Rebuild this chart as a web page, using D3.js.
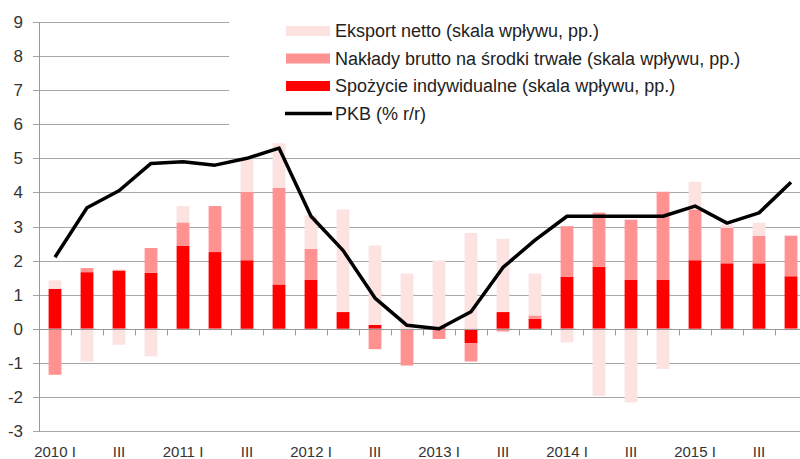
<!DOCTYPE html>
<html lang="pl">
<head>
    <meta charset="UTF-8">
    <title>PKB i wkłady</title>
    <script src="https://d3js.org/d3.v7.min.js"></script>
    <style>
        body {
            margin: 0;
            background: #fff;
            font-family: 'Liberation Sans', Arial, sans-serif;
        }
        .grid line { stroke: #a6a6a6; stroke-width: 1px; }
        .tick-label { fill: #333; font-size: 15px; }
        .y-label { fill: #333; font-size: 17px; }
        .legend text { fill: #222; font-size: 18px; }
    </style>
</head>
<body>
    <svg id="chart" width="800" height="459"></svg>

    <script>
        // kwartały 2010 I - 2015 IV
        const quarters = d3.range(24).map(i => (2010 + Math.floor(i / 4)) + " Q" + (i % 4 + 1));
        const xLabels = ["2010 I", "", "III", "", "2011 I", "", "III", "", "2012 I", "", "III", "",
                         "2013 I", "", "III", "", "2014 I", "", "III", "", "2015 I", "", "III", ""];

        const consumption = [1.17, 1.66, 1.70, 1.64, 2.44, 2.25, 2.01, 1.30, 1.43, 0.49, 0.11, 0.00,
                             0.05, -0.42, 0.49, 0.29, 1.53, 1.82, 1.43, 1.43, 2.01, 1.92, 1.92, 1.54];
        const investment = [-1.35, 0.12, 0.03, 0.73, 0.68, 1.35, 2.01, 2.83, 0.91, 0.00, -0.60, -1.08,
                            -0.30, -0.54, -0.08, 0.10, 1.48, 1.59, 1.77, 2.59, 1.49, 1.04, 0.81, 1.19];
        const netExports = [0.25, -0.96, -0.47, -0.81, 0.48, -0.05, 0.97, 1.31, 0.98, 3.01, 2.33, 1.62,
                            1.95, 2.81, 2.15, 1.23, -0.40, -1.97, -2.16, -1.18, 0.81, 0.10, 0.38, -0.05];
        const gdp = [2.1, 3.55, 4.05, 4.85, 4.9, 4.8, 5.0, 5.3, 3.3, 2.3, 0.9, 0.1,
                     0.0, 0.5, 1.8, 2.6, 3.3, 3.3, 3.3, 3.3, 3.6, 3.1, 3.4, 4.3];
        const yTicks = d3.range(-3, 10);

        const series = [
            { key: "cons", name: "Spożycie indywidualne (skala wpływu, pp.)", color: "#ff0000", values: consumption },
            { key: "inv", name: "Nakłady brutto na środki trwałe (skala wpływu, pp.)", color: "#ff9191", values: investment },
            { key: "nx", name: "Eksport netto (skala wpływu, pp.)", color: "#fde2e2", values: netExports }
        ];

        const svg = d3.select("#chart");
        const plotLeft = 39, plotRight = 807, plotTop = 22, plotBottom = 431;

        const x = d3.scaleBand()
            .domain(quarters)
            .range([plotLeft, plotRight])
            .paddingInner(0.6)
            .paddingOuter(0.3);
        const step = x.step();

        const y = d3.scaleLinear().domain([-3, 9]).range([plotBottom, plotTop]);

        // siatka
        svg.append("g")
            .attr("class", "grid")
            .selectAll("line")
            .data(yTicks.filter(d => d !== 0))
            .join("line")
            .attr("x1", plotLeft - 6)
            .attr("x2", plotRight)
            .attr("y1", d => Math.round(y(d)) + 0.5)
            .attr("y2", d => Math.round(y(d)) + 0.5);

        // słupki (stack dodatnie / ujemne)
        const table = quarters.map((q, i) => {
            const row = { q };
            series.forEach(s => row[s.key] = s.values[i]);
            return row;
        });
        const stacked = d3.stack()
            .keys(series.map(s => s.key))
            .offset(d3.stackOffsetDiverging)(table);

        svg.append("g")
            .selectAll("g")
            .data(stacked)
            .join("g")
            .attr("fill", (d, i) => series[i].color)
            .selectAll("rect")
            .data(d => d)
            .join("rect")
            .attr("x", d => x(d.data.q))
            .attr("width", x.bandwidth())
            .attr("y", d => y(Math.max(d[0], d[1])))
            .attr("height", d => Math.abs(y(d[0]) - y(d[1])));

        // oś Y
        svg.append("line")
            .attr("x1", plotLeft + 0.5).attr("x2", plotLeft + 0.5)
            .attr("y1", plotTop).attr("y2", plotBottom)
            .attr("stroke", "#999");

        svg.append("g")
            .selectAll("text")
            .data(yTicks)
            .join("text")
            .attr("class", "y-label")
            .attr("x", 23)
            .attr("y", d => y(d) + 6)
            .attr("text-anchor", "end")
            .text(d => d);

        // oś X (na zerze)
        const y0 = Math.round(y(0)) + 0.5;
        svg.append("line")
            .attr("x1", plotLeft - 6).attr("x2", plotRight)
            .attr("y1", y0).attr("y2", y0)
            .attr("stroke", "#999");

        svg.append("g")
            .selectAll("line")
            .data(quarters.slice(1))
            .join("line")
            .attr("x1", d => Math.round(x(d) - step * 0.3) + 0.5)
            .attr("x2", d => Math.round(x(d) - step * 0.3) + 0.5)
            .attr("y1", y0)
            .attr("y2", y0 + 6)
            .attr("stroke", "#999");

        svg.append("g")
            .selectAll("text")
            .data(quarters)
            .join("text")
            .attr("class", "tick-label")
            .attr("x", d => x(d) + x.bandwidth() / 2)
            .attr("y", 457)
            .attr("text-anchor", "middle")
            .text((d, i) => xLabels[i]);

        // linia PKB
        const line = d3.line()
            .x((d, i) => x(quarters[i]) + x.bandwidth() / 2)
            .y(d => y(d));

        svg.append("path")
            .datum(gdp)
            .attr("fill", "none")
            .attr("stroke", "#000")
            .attr("stroke-width", 3.5)
            .attr("stroke-linejoin", "round")
            .attr("d", line);

        // legenda
        svg.append("rect")
            .attr("x", 229).attr("y", 0)
            .attr("width", 571).attr("height", 135)
            .attr("fill", "#fff");

        const legendItems = [series[2], series[1], series[0], { name: "PKB (% r/r)", line: true }];
        const legend = svg.append("g").attr("class", "legend");
        legendItems.forEach((d, i) => {
            const cy = 31 + i * 27.5;
            if (d.line) {
                legend.append("line")
                    .attr("x1", 285).attr("x2", 332)
                    .attr("y1", cy).attr("y2", cy)
                    .attr("stroke", "#000")
                    .attr("stroke-width", 3.5);
            } else {
                legend.append("rect")
                    .attr("x", 286).attr("y", cy - 5)
                    .attr("width", 44).attr("height", 10)
                    .attr("fill", d.color);
            }
            legend.append("text")
                .attr("x", 335)
                .attr("y", cy + 6)
                .text(d.name);
        });
    </script>
</body>
</html>
